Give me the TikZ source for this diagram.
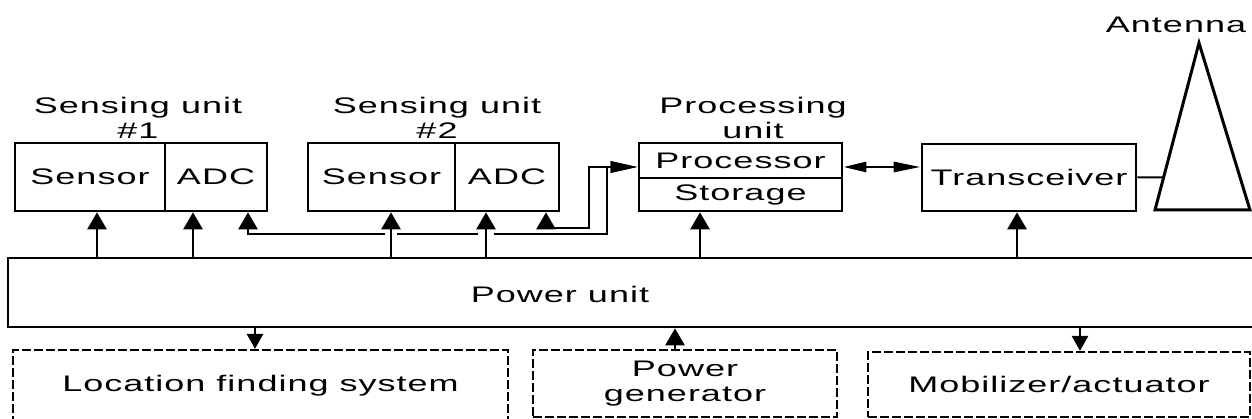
\documentclass[tikz,border=0pt]{standalone}
\usepackage{fontspec}
\setmainfont{Liberation Sans}[FakeStretch=1.6,LetterSpace=4.5]
\usetikzlibrary{arrows.meta,calc}
\begin{document}
\begin{tikzpicture}[x=1pt,y=-1pt,
  font=\fontsize{22.5}{25}\selectfont,
  box/.style={draw,line width=2.7pt,inner sep=0pt,anchor=center},
  dbox/.style={draw,line width=2.2pt,dash pattern=on 9pt off 3pt,inner sep=0pt,align=center},
  lbl/.style={inner sep=0pt,align=center,anchor=north},
  wire/.style={line width=2.8pt},
  uparrow/.style={wire,-{Triangle[width=19pt,length=17pt]}},
  downarrow/.style={wire,-{Triangle[width=16pt,length=15pt]}},
  vtip/.style={wire,{Triangle[width=19pt,length=17pt]}-{Triangle[width=11pt,length=27pt]}},
  dbl/.style={wire,{Triangle[width=10pt,length=23pt]}-{Triangle[width=10pt,length=27pt]}},
  gap/.style={white,line width=6pt}
]
\useasboundingbox (0,0) rectangle (1252,419);

% sensing units
\node[box,minimum width=150pt,minimum height=68pt] (s1) at (90,177) {Sensor};
\node[box,minimum width=102pt,minimum height=68pt] (a1) at (216,177) {ADC};
\node[box,minimum width=147pt,minimum height=68pt] (s2) at (381.5,177) {Sensor};
\node[box,minimum width=104pt,minimum height=68pt] (a2) at (507,177) {ADC};
\node[lbl] (l1) at (138,97) {Sensing unit\\\#1};
\node[lbl] (l2) at (437,97) {Sensing unit\\\#2};

% processing unit
\node[box,minimum width=203pt,minimum height=35pt] (proc) at (740.5,160.5) {Processor};
\node[box,minimum width=203pt,minimum height=33pt] (stor) at (740.5,194.5) {Storage};
\node[lbl] (l3) at (753,97) {Processing\\unit};

% transceiver and antenna
\node[box,minimum width=214pt,minimum height=67pt] (trx) at (1029,177.5) {Transceiver};
\coordinate (apex) at (1199,43);
\coordinate (bl) at (1155,210);
\coordinate (br) at (1250,210);
\draw[line width=3pt,line join=miter] (apex) -- (bl) -- (br) -- cycle;
\coordinate (antL) at ($(bl)!0.195!(apex)$);
\draw[line width=2pt] (trx.east) -- (antL);
\node[lbl] (antlbl) at (1176,17) {Antenna};

% power unit
\node[box,minimum width=1262pt,minimum height=69pt] (power) at (639,292.5) {};
\node[inner sep=0pt] (powlbl) at (560,294) {Power unit};

% bottom units
\node[dbox,minimum width=495pt,minimum height=72pt] (loc) at (260.5,386) {Location finding system};
\node[dbox,minimum width=304pt,minimum height=67pt] (pg) at (685,383.5) {Power\\generator};
\node[dbox,minimum width=382pt,minimum height=65pt] (mob) at (1059,384.5) {Mobilizer/actuator};

% data lines
\coordinate (j1) at (607,234);
\coordinate (j2) at (589,228);
\draw[vtip] ([xshift=32pt]a1.south) |- (j1) |- ([yshift=-6.5pt]proc.west);
\draw[vtip] ([xshift=39pt]a2.south) |- (j2) |- ([yshift=-6.5pt]proc.west);
\coordinate (c1) at ([xshift=9.5pt]s2.south |- j1);
\coordinate (c2) at ([xshift=-21pt]a2.south |- j1);
\draw[gap] ([xshift=-6pt]c1) -- ([xshift=6pt]c1);
\draw[gap] ([xshift=-8pt]c2) -- ([xshift=8pt]c2);

% power feeds
\draw[uparrow] ([xshift=7pt]s1.south |- power.north) -- ([xshift=7pt]s1.south);
\draw[uparrow] ([xshift=-23pt]a1.south |- power.north) -- ([xshift=-23pt]a1.south);
\draw[uparrow] ([xshift=9.5pt]s2.south |- power.north) -- ([xshift=9.5pt]s2.south);
\draw[uparrow] ([xshift=-21pt]a2.south |- power.north) -- ([xshift=-21pt]a2.south);
\draw[uparrow] ([xshift=-40.5pt]stor.south |- power.north) -- ([xshift=-40.5pt]stor.south);
\draw[uparrow] ([xshift=-12pt]trx.south |- power.north) -- ([xshift=-12pt]trx.south);

% processor <-> transceiver
\draw[dbl] ([yshift=-6.5pt]proc.east) -- ([yshift=-6.5pt]proc.east -| trx.west);

% power to bottom units
\draw[downarrow] ([xshift=-5.5pt]loc.north |- power.south) -- ([xshift=-5.5pt]loc.north);
\draw[uparrow] ([xshift=-10pt]pg.north) -- ([xshift=-10pt]pg.north |- power.south);
\draw[downarrow] ([xshift=21pt]mob.north |- power.south) -- ([xshift=21pt]mob.north);
\end{tikzpicture}
\end{document}
